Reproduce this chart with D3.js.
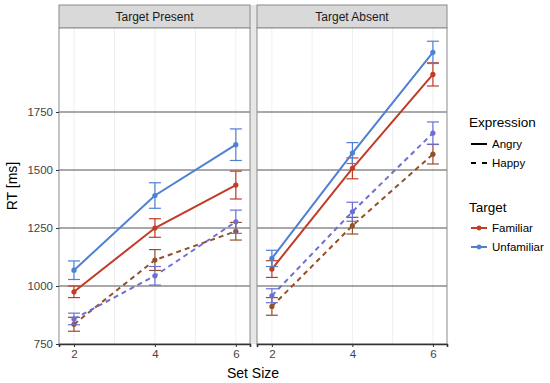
<!DOCTYPE html>
<html lang="en">
<head>
<meta charset="UTF-8" />
<title>RT by set size</title>
<style>
  body { margin: 0; background: #fff; }
  svg text { font-family: "Liberation Sans", Arial, sans-serif; }
</style>
</head>
<body>
<script src="https://cdn.jsdelivr.net/npm/d3@7"></script>
<div id="app"></div>
<script>
// data
const panels = ["Target Present", "Target Absent"];
const setSizes = [2, 4, 6];
const yTicks = [750, 1000, 1250, 1500, 1750];

// mean RT per set size
const presentAngryFamiliar = [975, 1250, 1435];
const presentAngryUnfamiliar = [1068, 1390, 1609];
const presentHappyFamiliar = [835, 1112, 1236];
const presentHappyUnfamiliar = [858, 1044, 1277];
const absentAngryFamiliar = [1073, 1507, 1912];
const absentAngryUnfamiliar = [1119, 1573, 2007];
const absentHappyFamiliar = [912, 1260, 1568];
const absentHappyUnfamiliar = [958, 1320, 1659];

// error bar half widths
const presentAngryFamiliarErr = [25, 40, 60];
const presentAngryUnfamiliarErr = [40, 55, 68];
const presentHappyFamiliarErr = [30, 45, 38];
const presentHappyUnfamiliarErr = [25, 40, 50];
const absentAngryFamiliarErr = [36, 45, 50];
const absentAngryUnfamiliarErr = [35, 45, 48];
const absentHappyFamiliarErr = [38, 36, 42];
const absentHappyUnfamiliarErr = [30, 41, 48];

const series = [
  { panel: 0, expr: "Angry", target: "Familiar", y: presentAngryFamiliar, e: presentAngryFamiliarErr },
  { panel: 0, expr: "Angry", target: "Unfamiliar", y: presentAngryUnfamiliar, e: presentAngryUnfamiliarErr },
  { panel: 0, expr: "Happy", target: "Familiar", y: presentHappyFamiliar, e: presentHappyFamiliarErr },
  { panel: 0, expr: "Happy", target: "Unfamiliar", y: presentHappyUnfamiliar, e: presentHappyUnfamiliarErr },
  { panel: 1, expr: "Angry", target: "Familiar", y: absentAngryFamiliar, e: absentAngryFamiliarErr },
  { panel: 1, expr: "Angry", target: "Unfamiliar", y: absentAngryUnfamiliar, e: absentAngryUnfamiliarErr },
  { panel: 1, expr: "Happy", target: "Familiar", y: absentHappyFamiliar, e: absentHappyFamiliarErr },
  { panel: 1, expr: "Happy", target: "Unfamiliar", y: absentHappyUnfamiliar, e: absentHappyUnfamiliarErr }
];

const colours = { Familiar: "#c23b27", Unfamiliar: "#4f80d2" };
const happyColours = { Familiar: "#93502a", Unfamiliar: "#6a6fd4" };

const w = 550, h = 383;
const plotTop = 28, plotBottom = 344;
const panelX = [[59, 250], [257, 447]];

const svg = d3.select("#app").append("svg")
  .attr("width", w).attr("height", h);

const y = d3.scaleLinear().domain([750, 2112]).range([plotBottom, plotTop]);

// gap between panels
svg.append("rect").attr("x", 250).attr("y", 5).attr("width", 7).attr("height", plotBottom - 5)
  .attr("fill", "#e6e6e6");

panels.forEach((name, p) => {
  const [x0, x1] = panelX[p];
  const x = d3.scaleLinear().domain([1.63, 6.35]).range([x0, x1]);
  const g = svg.append("g");

  // strip
  g.append("rect").attr("x", x0).attr("y", 5).attr("width", x1 - x0).attr("height", plotTop - 5)
    .attr("fill", "#d9d9d9").attr("stroke", "#8a8a8a").attr("stroke-width", 1);
  g.append("text").attr("x", (x0 + x1) / 2).attr("y", 21).attr("text-anchor", "middle")
    .attr("font-size", 12).attr("fill", "#1a1a1a").text(name);

  g.append("rect").attr("x", x0).attr("y", plotTop).attr("width", x1 - x0).attr("height", plotBottom - plotTop)
    .attr("fill", "#fff");

  // vertical grid
  g.selectAll(".vg").data([2, 3, 4, 5, 6]).enter().append("line")
    .attr("x1", d => x(d)).attr("x2", d => x(d)).attr("y1", plotTop).attr("y2", plotBottom)
    .attr("stroke", "#efefef").attr("stroke-width", 1);

  // horizontal grid
  g.selectAll(".hg").data(yTicks.slice(1)).enter().append("line")
    .attr("x1", x0).attr("x2", x1).attr("y1", d => y(d)).attr("y2", d => y(d))
    .attr("stroke", "#555").attr("stroke-width", 1.1);

  // border
  g.append("rect").attr("x", x0).attr("y", plotTop).attr("width", x1 - x0).attr("height", plotBottom - plotTop)
    .attr("fill", "none").attr("stroke", "#8a8a8a").attr("stroke-width", 1);

  // x axis
  const xAxis = d3.axisBottom(x).tickValues(setSizes).tickSize(3).tickPadding(3).tickFormat(d3.format("d"));
  const ax = g.append("g").attr("transform", "translate(0," + plotBottom + ")").call(xAxis);
  ax.select(".domain").attr("stroke", "#333").attr("stroke-width", 1.6);
  ax.selectAll(".tick line").attr("stroke", "#333");
  ax.selectAll("text").attr("font-size", 11.5).attr("fill", "#444");

  if (p === 0) {
    const yAxis = d3.axisLeft(y).tickValues(yTicks).tickSize(3).tickPadding(3).tickFormat(d3.format("d"));
    const ay = g.append("g").attr("transform", "translate(" + x0 + ",0)").call(yAxis);
    ay.select(".domain").remove();
    ay.selectAll(".tick line").attr("stroke", "#333");
    ay.selectAll("text").attr("font-size", 11.5).attr("fill", "#444");
  }

  const line = d3.line().x((d, i) => x(setSizes[i])).y(d => y(d));

  series.filter(s => s.panel === p).forEach(s => {
    const col = s.expr === "Angry" ? colours[s.target] : happyColours[s.target];
    g.append("path").datum(s.y).attr("d", line)
      .attr("fill", "none").attr("stroke", col).attr("stroke-width", 2)
      .attr("stroke-dasharray", s.expr === "Happy" ? "5,4" : null);

    const eb = g.selectAll(null).data(s.y.map((v, i) => ({ v: v, e: s.e[i], xs: setSizes[i] }))).enter().append("g");
    eb.append("line").attr("x1", d => x(d.xs)).attr("x2", d => x(d.xs))
      .attr("y1", d => y(d.v - d.e)).attr("y2", d => y(d.v + d.e))
      .attr("stroke", col).attr("stroke-width", 1.2);
    [-1, 1].forEach(sg => {
      eb.append("line").attr("x1", d => x(d.xs) - 6).attr("x2", d => x(d.xs) + 6)
        .attr("y1", d => y(d.v + sg * d.e)).attr("y2", d => y(d.v + sg * d.e))
        .attr("stroke", col).attr("stroke-width", 1.2);
    });
    eb.append("circle").attr("cx", d => x(d.xs)).attr("cy", d => y(d.v)).attr("r", 2.6)
      .attr("fill", col);
  });
});

// axis titles
svg.append("text").attr("x", 253).attr("y", 378).attr("text-anchor", "middle")
  .attr("font-size", 14).attr("fill", "#000").text("Set Size");
svg.append("text").attr("transform", "translate(17,186) rotate(-90)").attr("text-anchor", "middle")
  .attr("font-size", 14).attr("fill", "#000").text("RT [ms]");

// legends
const lg = svg.append("g");
lg.append("text").attr("x", 469).attr("y", 127).attr("font-size", 13.5).text("Expression");
const exprKeys = [{ k: "Angry", dash: null }, { k: "Happy", dash: "5,6" }];
lg.selectAll(".ek").data(exprKeys).enter().append("line")
  .attr("x1", 471).attr("x2", 487).attr("y1", (d, i) => 144 + i * 19).attr("y2", (d, i) => 144 + i * 19)
  .attr("stroke", "#000").attr("stroke-width", 2).attr("stroke-dasharray", d => d.dash);
lg.selectAll(".et").data(exprKeys).enter().append("text")
  .attr("x", 492).attr("y", (d, i) => 148 + i * 19).attr("font-size", 11.5).text(d => d.k);

lg.append("text").attr("x", 469).attr("y", 212).attr("font-size", 13.5).text("Target");
const targets = ["Familiar", "Unfamiliar"];
targets.forEach((t, i) => {
  const yy = 228 + i * 19;
  lg.append("line").attr("x1", 471).attr("x2", 487).attr("y1", yy).attr("y2", yy)
    .attr("stroke", colours[t]).attr("stroke-width", 2);
  lg.append("circle").attr("cx", 479).attr("cy", yy).attr("r", 2.4).attr("fill", colours[t]);
  lg.append("text").attr("x", 492).attr("y", yy + 4).attr("font-size", 11.5).text(t);
});
</script>
</body>
</html>
